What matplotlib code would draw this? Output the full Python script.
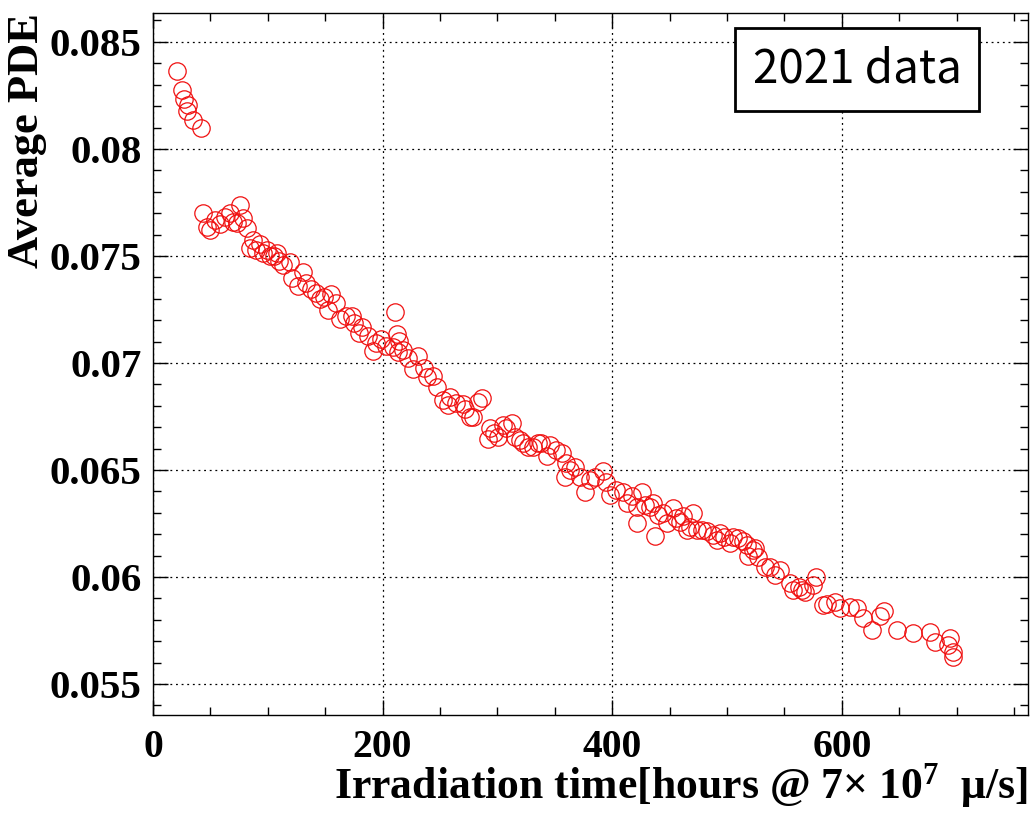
import matplotlib.pyplot as plt
from matplotlib.ticker import MultipleLocator, FormatStrFormatter

# irradiation time [hours] and average PDE
hours = [20.9, 25.3, 27.0, 30.5, 29.6, 34.9, 41.8,
         43.6, 47.1, 49.7, 54.0, 58.4, 62.7, 67.1, 69.7, 73.2, 75.8,
         78.4, 81.9, 84.5, 87.1, 89.8, 93.2, 95.9, 99.3, 102.0, 105.4,
         108.1, 109.8, 113.3, 119.4, 121.1, 126.4, 130.7, 133.3, 137.7,
         142.0, 145.5, 149.0, 152.5, 155.1, 159.5, 163.0, 168.2, 173.4,
         175.2, 179.5, 182.1, 187.4, 191.7, 194.3, 198.7, 203.1, 209.2,
         211.0, 212.6, 214.4, 213.5, 217.9, 222.2, 226.6, 230.9, 236.2,
         238.8, 244.0, 247.5, 252.7, 257.1, 258.8, 264.1, 270.2, 271.9,
         276.3, 278.9, 283.2, 286.7, 291.9, 293.7, 297.2, 300.7, 305.0,
         307.6, 312.9, 315.5, 319.8, 322.4, 326.8, 331.2, 335.5, 338.1,
         343.4, 346.0, 351.2, 356.4, 359.9, 359.0, 363.4, 367.8, 372.1,
         376.5, 380.8, 385.2, 392.2, 394.8, 398.3, 403.5, 409.6, 413.1,
         417.4, 421.8, 421.8, 426.1, 428.8, 433.1, 435.7, 437.5, 440.1,
         444.4, 447.9, 453.2, 455.8, 459.3, 461.9, 465.4, 468.0, 470.6,
         474.1, 478.4, 482.8, 488.0, 491.5, 494.1, 497.6, 502.8, 505.4,
         509.8, 514.2, 517.6, 518.5, 522.9, 524.6, 527.2, 533.3, 537.7,
         542.0, 546.4, 555.1, 557.7, 563.0, 565.6, 568.2, 575.2, 577.8,
         583.9, 587.4, 594.3, 598.7, 607.4, 613.5, 618.7, 626.6, 633.6,
         637.0, 648.4, 662.3, 677.1, 681.5, 694.6, 692.8, 697.2, 697.2]
pde = [0.08364, 0.08275, 0.08234, 0.08206, 0.08178, 0.08136, 0.08099,
       0.07701, 0.07636, 0.07621, 0.07668, 0.07650, 0.07682, 0.07701,
       0.07659, 0.07654, 0.07738, 0.07678, 0.07631, 0.07537, 0.07575,
       0.07528, 0.07556, 0.07514, 0.07528, 0.07500, 0.07500, 0.07514,
       0.07477, 0.07458, 0.07472, 0.07397, 0.07360, 0.07425, 0.07374,
       0.07346, 0.07327, 0.07299, 0.07308, 0.07248, 0.07322, 0.07280,
       0.07206, 0.07220, 0.07220, 0.07187, 0.07140, 0.07168, 0.07126,
       0.07056, 0.07093, 0.07112, 0.07079, 0.07075, 0.07238, 0.07135,
       0.07103, 0.07051, 0.07061, 0.07023, 0.06972, 0.07033, 0.06977,
       0.06935, 0.06939, 0.06888, 0.06827, 0.06804, 0.06841, 0.06813,
       0.06808, 0.06785, 0.06747, 0.06747, 0.06818, 0.06836, 0.06645,
       0.06696, 0.06673, 0.06654, 0.06710, 0.06696, 0.06720, 0.06654,
       0.06640, 0.06626, 0.06607, 0.06607, 0.06626, 0.06626, 0.06565,
       0.06617, 0.06593, 0.06579, 0.06533, 0.06467, 0.06500, 0.06514,
       0.06467, 0.06397, 0.06453, 0.06467, 0.06495, 0.06444, 0.06383,
       0.06406, 0.06397, 0.06346, 0.06378, 0.06327, 0.06252, 0.06397,
       0.06336, 0.06327, 0.06346, 0.06192, 0.06290, 0.06299, 0.06252,
       0.06322, 0.06276, 0.06257, 0.06285, 0.06220, 0.06234, 0.06299,
       0.06220, 0.06220, 0.06215, 0.06196, 0.06173, 0.06206, 0.06187,
       0.06159, 0.06187, 0.06182, 0.06168, 0.06149, 0.06098, 0.06126,
       0.06135, 0.06093, 0.06047, 0.06047, 0.06009, 0.06033, 0.05972,
       0.05939, 0.05953, 0.05939, 0.05930, 0.05963, 0.06000, 0.05869,
       0.05874, 0.05883, 0.05855, 0.05860, 0.05855, 0.05808, 0.05752,
       0.05818, 0.05841, 0.05752, 0.05738, 0.05743, 0.05696, 0.05715,
       0.05682, 0.05649, 0.05626]

xticks = [0, 200, 400, 600]
yticks = [0.055, 0.06, 0.065, 0.07, 0.075, 0.08, 0.085]

plt.rcParams['mathtext.fontset'] = 'custom'
plt.rcParams['mathtext.rm'] = 'Liberation Serif:bold'
plt.rcParams['mathtext.it'] = 'Liberation Serif:bold'
plt.rcParams['mathtext.bf'] = 'Liberation Serif:bold'

serif = ['Liberation Serif', 'DejaVu Serif']

fig = plt.figure(figsize=(10.33, 8.13), dpi=100)
ax = fig.add_axes([0.148, 0.1205, 0.847, 0.8635])

ax.plot(hours, pde, 'o', mfc='none', mec='#f01010', ms=12.5, mew=0.9)

ax.set_xlim(0, 762)
ax.set_ylim(0.05355, 0.08635)
ax.set_xticks(xticks)
ax.set_yticks(yticks)
ax.xaxis.set_minor_locator(MultipleLocator(50))
ax.yaxis.set_minor_locator(MultipleLocator(0.001))
ax.yaxis.set_major_formatter(FormatStrFormatter('%g'))

ax.tick_params(which='both', direction='in', top=True, right=True, width=1)
ax.tick_params(which='major', length=11)
ax.tick_params(which='minor', length=6)
ax.tick_params(axis='x', pad=10)
ax.tick_params(axis='y', pad=8)
for lab in ax.get_yticklabels():
    lab.set_family(serif)
    lab.set_fontweight('bold')
    lab.set_fontsize(29.5)
for lab in ax.get_xticklabels():
    lab.set_family(serif)
    lab.set_fontweight('bold')
    lab.set_fontsize(28.5)

ax.grid(True, which='major', color='k', lw=0.9, linestyle=(0, (1.5, 3)))
for sp in ax.spines.values():
    sp.set_linewidth(1)

ax.set_xlabel(r'Irradiation time[hours @ 7$\times$ 10$^{7}$  $\mu$/s]',
              family=serif, fontweight='bold', fontsize=31.5, loc='right',
              labelpad=-3)
ax.set_ylabel('Average PDE', family=serif, fontweight='bold', fontsize=32,
              loc='top', labelpad=2)

ax.text(0.805, 0.92, '2021 data', transform=ax.transAxes, ha='center', va='center',
        fontsize=33, family=['Noto Sans CJK JP', 'DejaVu Sans'],
        bbox=dict(boxstyle='square,pad=0.38', fc='white', ec='k', lw=2))

fig.savefig('out.png', dpi=100)
